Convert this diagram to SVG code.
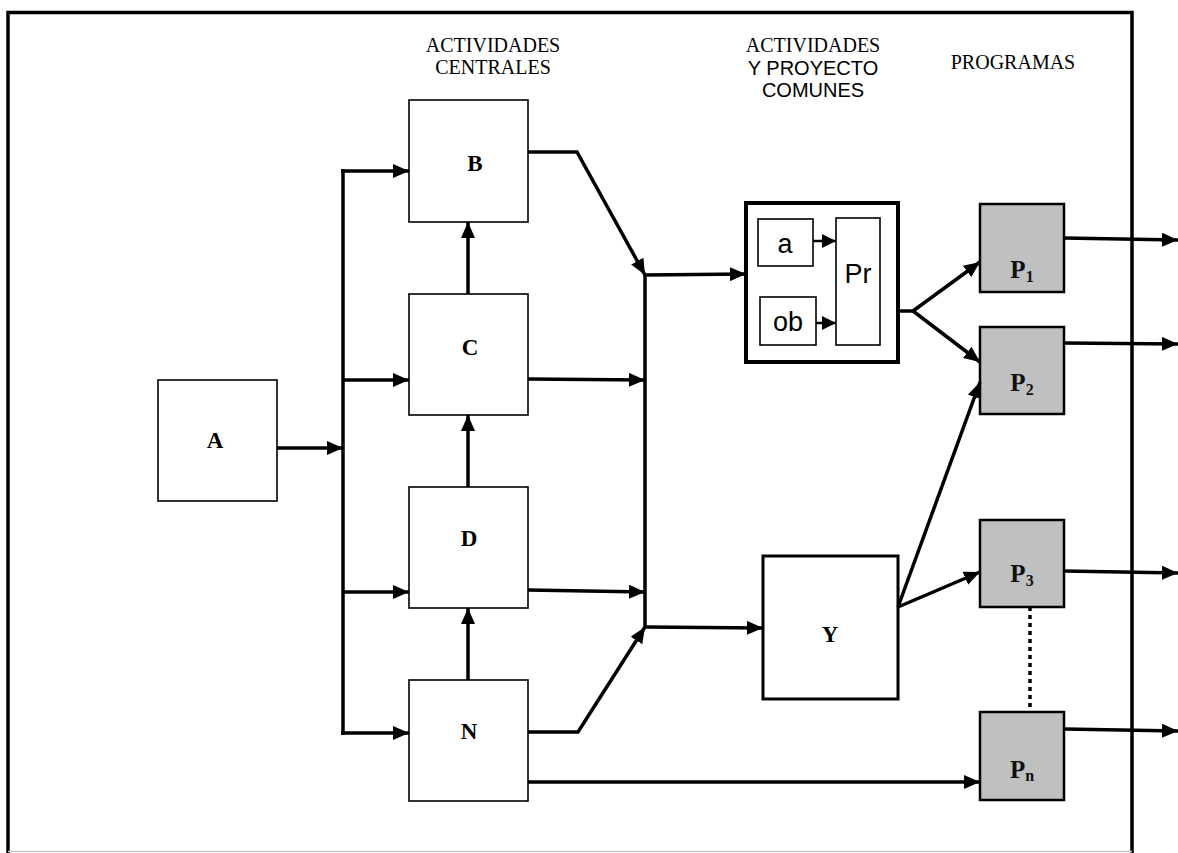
<svg xmlns="http://www.w3.org/2000/svg" width="1178" height="853" viewBox="0 0 1178 853">
<style>
.box{fill:#fff;stroke:#000;stroke-width:1.6}
.pbox{fill:#c0c0c0;stroke:#000;stroke-width:2.5}
.ln{fill:none;stroke:#000;stroke-width:3.5;stroke-linejoin:miter}
.arr{fill:none;stroke:#000;stroke-width:3.5;marker-end:url(#ah)}
.arrs{fill:none;stroke:#000;stroke-width:2.5;marker-end:url(#ahs)}
.hdr{font-family:"Liberation Serif",serif;font-size:20px;text-anchor:middle}
.hdrs{font-family:"Liberation Sans",sans-serif;font-size:20px;text-anchor:middle}
.lbl{font-family:"Liberation Serif",serif;font-size:23px;font-weight:bold;text-anchor:middle}
.plbl{font-family:"Liberation Serif",serif;font-size:25px;font-weight:bold;text-anchor:middle;fill:#111}
.sl{font-family:"Liberation Sans",sans-serif;font-size:27px;text-anchor:middle}
.sub{font-size:16px}
</style>
<defs>
<marker id="ah" markerUnits="userSpaceOnUse" markerWidth="18" markerHeight="14" refX="16" refY="7" orient="auto"><path d="M0,0 L16,7 L0,14 Z" fill="#000"/></marker>
<marker id="ahs" markerUnits="userSpaceOnUse" markerWidth="16" markerHeight="14" refX="14" refY="7" orient="auto"><path d="M0,0 L14,7 L0,14 Z" fill="#000"/></marker>
</defs>
<rect width="1178" height="853" fill="#fff"/>
<g id="frame">
<path d="M8,853 L8,12.5 L1132,12.5 L1132,853" fill="none" stroke="#000" stroke-width="3.5"/>
<line x1="8" y1="851.5" x2="1132" y2="851.5" stroke="#c8c8c8" stroke-width="1.5"/>
</g>
<g id="headers">
<text class="hdr" x="493" y="52">ACTIVIDADES</text>
<text class="hdr" x="493" y="74">CENTRALES</text>
<text class="hdr" x="813" y="52">ACTIVIDADES</text>
<text class="hdrs" x="813" y="75">Y PROYECTO</text>
<text class="hdrs" x="813" y="97">COMUNES</text>
<text class="hdr" x="1013" y="69">PROGRAMAS</text>
</g>
<g id="A"><rect class="box" x="158" y="380" width="119" height="121"/><text class="lbl" x="215" y="448">A</text></g>
<g id="B"><rect class="box" x="409" y="100" width="119" height="122"/><text class="lbl" x="475" y="171">B</text></g>
<g id="C"><rect class="box" x="409" y="294" width="119" height="121"/><text class="lbl" x="470" y="355">C</text></g>
<g id="D"><rect class="box" x="409" y="487" width="119" height="121"/><text class="lbl" x="469" y="546">D</text></g>
<g id="N"><rect class="box" x="409" y="680" width="119" height="121"/><text class="lbl" x="469" y="739">N</text></g>
<g id="comunes"><rect x="746" y="203" width="152" height="159" fill="none" stroke="#000" stroke-width="4"/></g>
<g id="a"><rect class="box" x="758" y="219" width="55" height="47"/><text class="sl" x="785" y="253">a</text></g>
<g id="ob"><rect class="box" x="760" y="297" width="56" height="48"/><text class="sl" x="788" y="331">ob</text></g>
<g id="Pr"><rect class="box" x="836" y="218" width="44" height="127"/><text class="sl" x="858" y="283">Pr</text></g>
<g id="Y"><rect x="763" y="556" width="135" height="143" fill="#fff" stroke="#000" stroke-width="3"/><text class="lbl" x="830" y="642">Y</text></g>
<g id="P1"><rect class="pbox" x="980" y="204" width="84" height="88"/><text class="plbl" x="1022" y="278">P<tspan class="sub" dy="4">1</tspan></text></g>
<g id="P2"><rect class="pbox" x="980" y="327" width="84" height="87"/><text class="plbl" x="1022" y="391">P<tspan class="sub" dy="4">2</tspan></text></g>
<g id="P3"><rect class="pbox" x="980" y="520" width="84" height="87"/><text class="plbl" x="1022" y="582">P<tspan class="sub" dy="4">3</tspan></text></g>
<g id="Pn"><rect class="pbox" x="980" y="712" width="84" height="88"/><text class="plbl" x="1022" y="778">P<tspan class="sub" dy="3">n</tspan></text></g>
<g id="connectors">
<line class="arr" x1="277" y1="448" x2="343" y2="448"/>
<line class="ln" x1="343" y1="169" x2="343" y2="735"/>
<line class="arr" x1="341" y1="171" x2="409" y2="171"/>
<line class="arr" x1="343" y1="380" x2="409" y2="380"/>
<line class="arr" x1="343" y1="592" x2="409" y2="592"/>
<line class="arr" x1="341" y1="733" x2="409" y2="733"/>
<line class="arr" x1="468" y1="294" x2="468" y2="222"/>
<line class="arr" x1="468" y1="487" x2="468" y2="415"/>
<line class="arr" x1="468" y1="680" x2="468" y2="608"/>
<line class="ln" x1="645" y1="275" x2="645" y2="627"/>
<path class="arr" d="M528,152 L577,152 L645,275"/>
<line class="arr" x1="528" y1="379" x2="645" y2="380"/>
<line class="arr" x1="528" y1="590" x2="645" y2="592"/>
<path class="arr" d="M528,732 L578,732 L645,627"/>
<line class="arr" x1="645" y1="275" x2="746" y2="274"/>
<line class="arr" x1="645" y1="627" x2="763" y2="628"/>
<line class="arrs" x1="813" y1="241" x2="836" y2="241"/>
<line class="arrs" x1="816" y1="323" x2="836" y2="323"/>
<line class="ln" x1="898" y1="311" x2="913" y2="311"/>
<line class="arr" x1="913" y1="311" x2="980" y2="262"/>
<line class="arr" x1="913" y1="311" x2="980" y2="362"/>
<line class="arr" x1="898" y1="607" x2="980" y2="382"/>
<line class="arr" x1="898" y1="607" x2="980" y2="572"/>
<line class="arr" x1="528" y1="782" x2="980" y2="782"/>
<line class="arr" x1="1064" y1="238" x2="1178" y2="240"/>
<line class="arr" x1="1064" y1="343" x2="1178" y2="344"/>
<line class="arr" x1="1064" y1="571" x2="1178" y2="573"/>
<line class="arr" x1="1064" y1="729" x2="1178" y2="731"/>
<line x1="1030" y1="607" x2="1030" y2="712" stroke="#000" stroke-width="3.5" stroke-dasharray="4,4"/>
</g>
</svg>
